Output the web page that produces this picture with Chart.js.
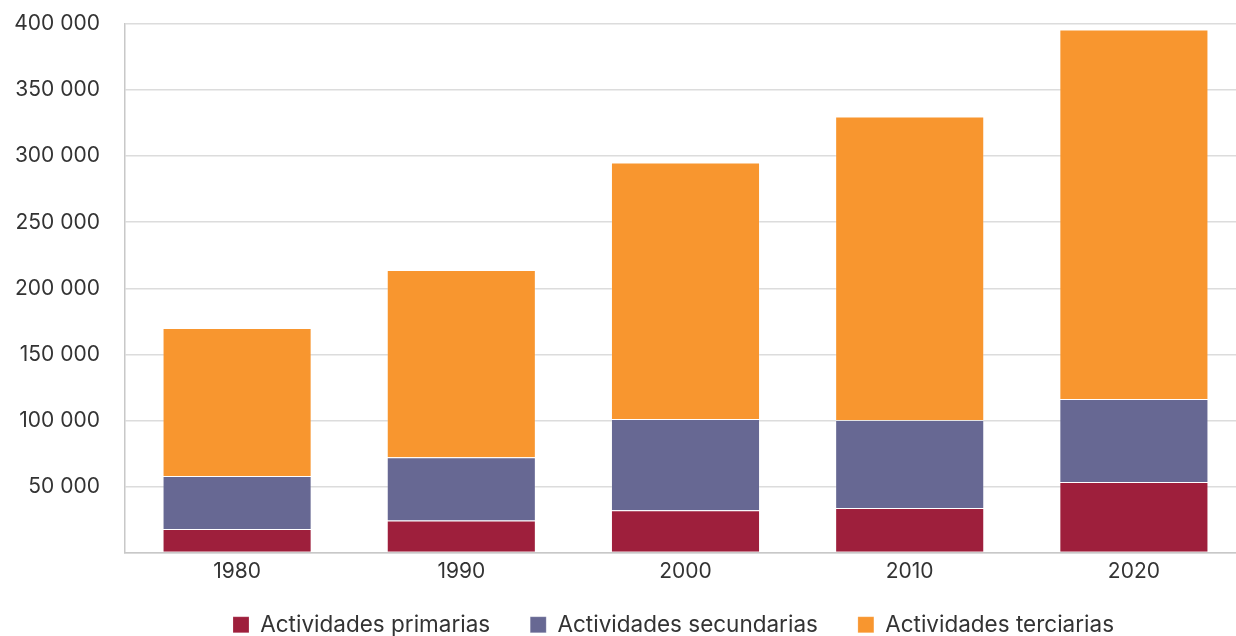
<!DOCTYPE html>
<html>
<head>
<meta charset="utf-8">
<script src="https://cdn.jsdelivr.net/npm/chart.js@4"></script>
<style>
    html, body { margin: 0; padding: 0; overflow: hidden; background: #fff; }
    #wrap { position: absolute; left: 0; top: 0; width: 1246px; height: 646px; }
</style>
</head>
<body>
<div id="wrap"><canvas id="sectorChart"></canvas></div>
<script>
const years = ['1980', '1990', '2000', '2010', '2020']
const primarias = [17800, 24200, 32000, 33700, 53300]
const secundarias = [40100, 47800, 69000, 66500, 62900]
const terciarias = [112100, 141800, 194200, 229800, 279600]
const yTicks = [0, 50000, 100000, 150000, 200000, 250000, 300000, 350000, 400000]

const fontFamily = 'Inter'
const textColor = '#333333'

const formatNumber = (v) => v === 0 ? '' : String(v).replace(/\B(?=(\d{3})+(?!\d))/g, ' ')

// nudge the legend a bit to the left, like the original
const legendShift = {
    id: 'legendShift',
    afterLayout(chart) {
        chart.legend.left -= 12
        chart.legend.right -= 12
    }
}

const ctx = document.getElementById('sectorChart').getContext('2d');

new Chart(ctx, {
    type: 'bar',
    data: {
        labels: years,
        datasets: [{
            label: 'Actividades primarias',
            data: primarias,
            backgroundColor: '#9E1F3C',
            borderColor: 'rgba(255,255,255,0.2)',
            borderWidth: 1,
        }, {
            label: 'Actividades secundarias',
            data: secundarias,
            backgroundColor: '#676893',
            borderColor: 'rgba(255,255,255,0.2)',
            borderWidth: 1,
        }, {
            label: 'Actividades terciarias',
            data: terciarias,
            backgroundColor: '#F8962F',
            borderColor: 'rgba(255,255,255,0.2)',
            borderWidth: 1,
        }]
    },
    plugins: [legendShift],
    options: {
        responsive: true,
        maintainAspectRatio: false,
        animation: false,
        datasets: {
            bar: {
                categoryPercentage: 1,
                barPercentage: 0.665,
            }
        },
        layout: {
            padding: { top: 24, right: 0, bottom: 0, left: 0 }
        },
        scales: {
            x: {
                stacked: true,
                grid: { display: false, drawTicks: false },
                border: { display: true, color: '#c8c8c8', width: 1.5 },
                ticks: {
                    mirror: true,
                    padding: -31.6,
                    color: textColor,
                    font: { family: fontFamily, size: 21 }
                },
                afterFit: (scale) => { scale.height = 21 }
            },
            y: {
                stacked: true,
                min: 0,
                max: 400000,
                afterBuildTicks: (scale) => { scale.ticks = yTicks.map(v => ({ value: v })) },
                grid: { color: '#dcdcdc', lineWidth: 1.5, drawTicks: false },
                border: { display: true, color: '#c8c8c8', width: 1.5 },
                ticks: {
                    padding: 25,
                    color: textColor,
                    font: { family: fontFamily, size: 21 },
                    callback: (value) => formatNumber(value)
                },
                afterFit: (scale) => {
                    scale.width = 125
                    scale.paddingTop = 0
                    scale.paddingBottom = 0
                }
            }
        },
        plugins: {
            tooltip: { enabled: false },
            legend: {
                position: 'bottom',
                fullSize: false,
                labels: {
                    boxWidth: 16,
                    boxHeight: 16,
                    padding: 40,
                    color: textColor,
                    font: { family: fontFamily, size: 22.5 }
                }
            }
        }
    }
});
</script>
</body>
</html>
